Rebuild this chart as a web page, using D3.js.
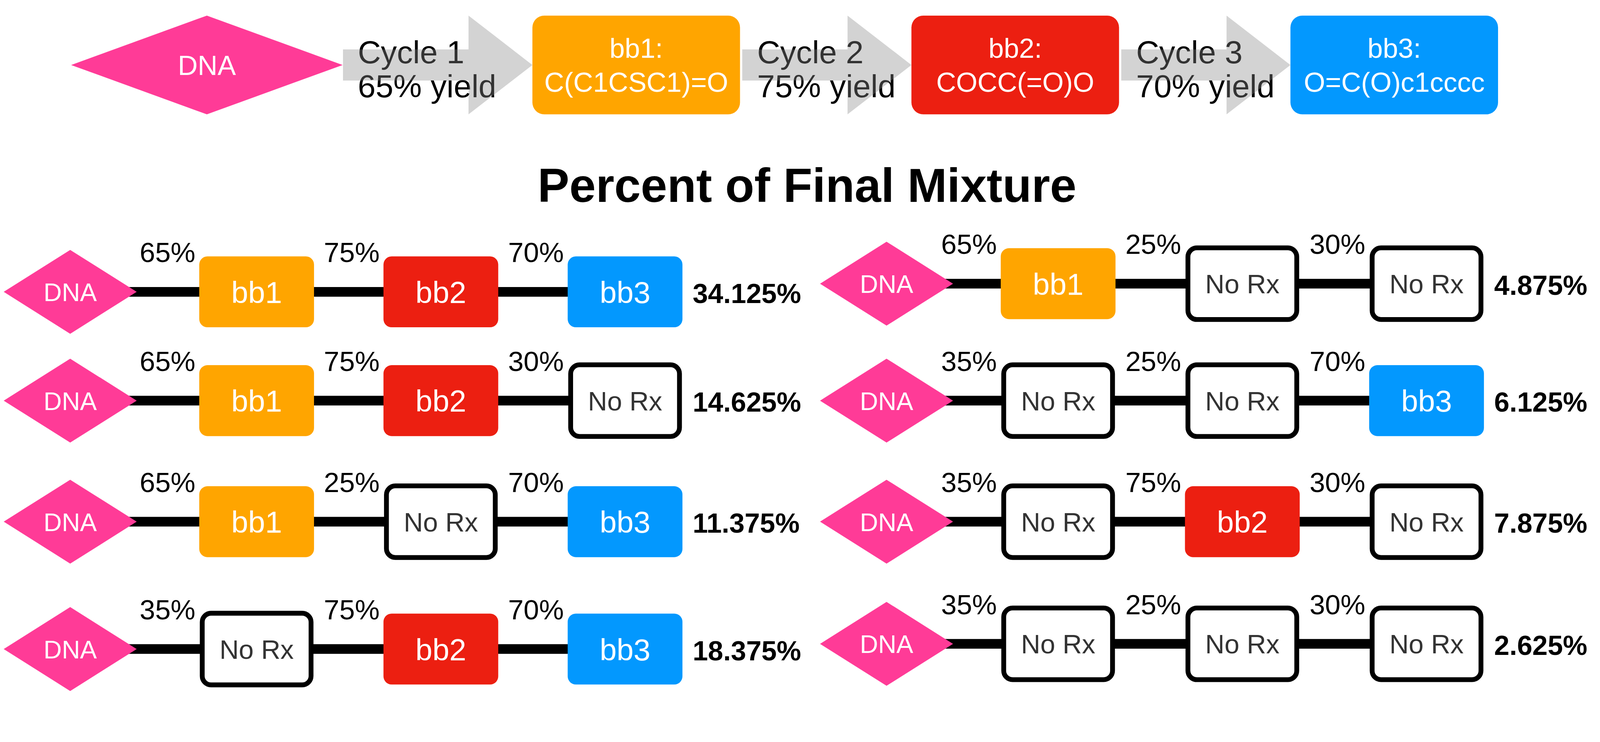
<!DOCTYPE html>
<html>
<head>
<meta charset="utf-8">
<script src="https://cdn.jsdelivr.net/npm/d3@7"></script>
<style>
  html, body { margin: 0; padding: 0; width: 100%; height: 100%; overflow: hidden; background: #fff; }
  svg { display: block; width: 100vw; height: 100vh; }
  text { font-family: "Liberation Sans", Arial, Helvetica, sans-serif; }
</style>
</head>
<body>
<svg viewBox="0 0 4308 1900" preserveAspectRatio="xMinYMin meet"></svg>
<script>
'use strict';

// top flow
var cycles = ['Cycle 1', 'Cycle 2', 'Cycle 3'],
    cycleYields = [65, 75, 70],
    blocks = ['bb1', 'bb2', 'bb3'],
    smiles = ['C(C1CSC1)=O', 'COCC(=O)O', 'O=C(O)c1cccc'];

// final mixture combos (left column first, then right)
var combos = [
    ['bb1', 'bb2', 'bb3'],
    ['bb1', 'bb2', 'No Rx'],
    ['bb1', 'No Rx', 'bb3'],
    ['No Rx', 'bb2', 'bb3'],
    ['bb1', 'No Rx', 'No Rx'],
    ['No Rx', 'No Rx', 'bb3'],
    ['No Rx', 'bb2', 'No Rx'],
    ['No Rx', 'No Rx', 'No Rx']
];
var stepYields = [
    [65, 75, 70], [65, 75, 30], [65, 25, 70], [35, 75, 70],
    [65, 25, 30], [35, 25, 70], [35, 75, 30], [35, 25, 30]
];
var mixture = [34.125, 14.625, 11.375, 18.375, 4.875, 6.125, 7.875, 2.625];

var colors = d3.scaleOrdinal()
    .domain(['DNA', 'bb1', 'bb2', 'bb3'])
    .range(['#ff3b97', '#ffa500', '#ec1f11', '#0398fe']);

var svg = d3.select('svg');

function diamond(cx, cy, w, h) {
    return 'M' + (cx - w / 2) + ',' + cy + 'L' + cx + ',' + (cy - h / 2) +
        'L' + (cx + w / 2) + ',' + cy + 'L' + cx + ',' + (cy + h / 2) + 'Z';
}

// ---------- top row ----------
var topY = 175,
    topBoxW = 559,
    topBoxH = 266,
    dnaTopX = 557,
    dnaTopW = 731;
var topX = d3.scalePoint().domain(blocks).range([1713, 3754]);

var topRow = svg.append('g').attr('class', 'top-row');

topRow.append('path')
    .attr('d', diamond(dnaTopX, topY, dnaTopW, topBoxH))
    .attr('fill', colors('DNA'));
topRow.append('text')
    .attr('x', dnaTopX).attr('y', topY + 27)
    .attr('text-anchor', 'middle')
    .attr('font-size', 74).attr('fill', '#fff')
    .text('DNA');

function arrowStart(i) {
    return i === 0 ? dnaTopX + dnaTopW / 2 + 1 : topX(blocks[i - 1]) + topBoxW / 2 + 6;
}

// cycle labels drawn first, translucent arrows over them
cycles.forEach(function (c, i) {
    var x1 = arrowStart(i);
    var t = topRow.append('text')
        .attr('font-size', 86).attr('fill', '#000');
    t.append('tspan').attr('x', x1 + 40).attr('y', topY - 5).text(c);
    t.append('tspan').attr('x', x1 + 40).attr('y', topY + 87).text(cycleYields[i] + '% yield');
});

cycles.forEach(function (c, i) {
    var x1 = arrowStart(i),
        x2 = topX(blocks[i]) - topBoxW / 2,
        hx = x2 - 172;
    topRow.append('path')
        .attr('d', 'M' + x1 + ',' + (topY - 42) + 'H' + hx + 'V' + (topY - 133) +
            'L' + x2 + ',' + topY + 'L' + hx + ',' + (topY + 133) + 'V' + (topY + 42) +
            'H' + x1 + 'Z')
        .attr('fill', '#898989')
        .attr('fill-opacity', 0.373);
});

blocks.forEach(function (b, i) {
    var cx = topX(b);
    topRow.append('rect')
        .attr('x', cx - topBoxW / 2).attr('y', topY - topBoxH / 2)
        .attr('width', topBoxW).attr('height', topBoxH)
        .attr('rx', 32).attr('ry', 32)
        .attr('fill', colors(b));
    topRow.append('text')
        .attr('x', cx).attr('y', topY - 19)
        .attr('text-anchor', 'middle')
        .attr('font-size', 74).attr('fill', '#fff')
        .text(b + ':');
    topRow.append('text')
        .attr('x', cx).attr('y', topY + 72)
        .attr('text-anchor', 'middle')
        .attr('font-size', 74).attr('fill', '#fff')
        .text(smiles[i]);
});

// ---------- title ----------
svg.append('text')
    .attr('x', 2173).attr('y', 544)
    .attr('text-anchor', 'middle')
    .attr('font-size', 128).attr('font-weight', 'bold')
    .text('Percent of Final Mixture');

// ---------- mixture rows ----------
var panelX = d3.scaleOrdinal().domain([0, 1]).range([0, 2158]),
    dnaX = d3.scaleOrdinal().domain([0, 1]).range([189, 2387]),
    slotX = d3.scaleLinear().domain([1, 3]).range([691, 1683]),
    rowY = d3.scaleOrdinal()
        .domain(d3.range(8))
        .range([786, 1079, 1405, 1748, 764, 1079, 1405, 1734]),
    fmt = d3.format('.3f');

var boxW = 309, boxH = 191, emptyW = 293, emptyH = 193;

var rows = svg.append('g').attr('class', 'rows')
    .selectAll('g')
    .data(combos)
    .join('g');

rows.each(function (combo, i) {
    var g = d3.select(this),
        col = Math.floor(i / 4),
        cy = rowY(i),
        ox = panelX(col),
        dx = dnaX(col);

    // backbone line
    g.append('line')
        .attr('x1', dx).attr('x2', ox + slotX(3))
        .attr('y1', cy).attr('y2', cy)
        .attr('stroke', '#000').attr('stroke-width', 26);

    g.append('path')
        .attr('d', diamond(dx, cy, 358, 226))
        .attr('fill', colors('DNA'));
    g.append('text')
        .attr('x', dx).attr('y', cy + 25)
        .attr('text-anchor', 'middle')
        .attr('font-size', 68).attr('fill', '#fff')
        .text('DNA');

    combo.forEach(function (b, k) {
        var cx = ox + slotX(k + 1);
        if (b === 'No Rx') {
            g.append('rect')
                .attr('x', cx - emptyW / 2).attr('y', cy - emptyH / 2)
                .attr('width', emptyW).attr('height', emptyH)
                .attr('rx', 24).attr('ry', 24)
                .attr('fill', '#fff').attr('stroke', '#000').attr('stroke-width', 13);
            g.append('text')
                .attr('x', cx).attr('y', cy + 26)
                .attr('text-anchor', 'middle')
                .attr('font-size', 72).attr('fill', '#333')
                .text(b);
        } else {
            g.append('rect')
                .attr('x', cx - boxW / 2).attr('y', cy - boxH / 2)
                .attr('width', boxW).attr('height', boxH)
                .attr('rx', 22).attr('ry', 22)
                .attr('fill', colors(b));
            g.append('text')
                .attr('x', cx).attr('y', cy + 30)
                .attr('text-anchor', 'middle')
                .attr('font-size', 82).attr('fill', '#fff')
                .text(b);
        }
        g.append('text')
            .attr('x', cx - 315).attr('y', cy - 80)
            .attr('font-size', 75).attr('fill', '#000')
            .text(stepYields[i][k] + '%');
    });

    g.append('text')
        .attr('x', ox + slotX(3) + 182).attr('y', cy + 30)
        .attr('font-size', 74).attr('font-weight', 'bold').attr('fill', '#000')
        .text(fmt(mixture[i]) + '%');
});
</script>
</body>
</html>
